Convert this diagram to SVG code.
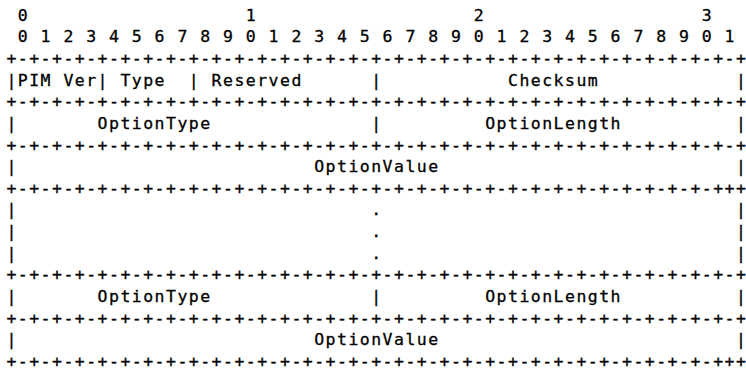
<svg xmlns="http://www.w3.org/2000/svg" width="746" height="371" viewBox="0 0 746 371">
<style>
text { font-family: "DejaVu Sans Mono", "Liberation Mono", monospace; font-size: 16.5px; letter-spacing: 1.466px; fill: #000; stroke: #000; stroke-width: 0.3px; white-space: pre; }
text.edge { letter-spacing: 0; }
</style>
<rect width="746" height="371" fill="#ffffff"/>
<g id="bit-ruler">
<text x="17.8" y="20.5">0</text>
<text x="245.8" y="20.5">1</text>
<text x="473.8" y="20.5">2</text>
<text x="701.8" y="20.5">3</text>
<text x="17.8" y="42.2" xml:space="preserve">0 1 2 3 4 5 6 7 8 9 0 1 2 3 4 5 6 7 8 9 0 1 2 3 4 5 6 7 8 9 0 1</text>
</g>
<g id="connectors">
<text x="6.4" y="63.8">+-+-+-+-+-+-+-+-+-+-+-+-+-+-+-+-+-+-+-+-+-+-+-+-+-+-+-+-+-+-+-+-</text>
<text class="edge" x="736" y="63.8">+</text>
<text x="6.4" y="107.1">+-+-+-+-+-+-+-+-+-+-+-+-+-+-+-+-+-+-+-+-+-+-+-+-+-+-+-+-+-+-+-+-</text>
<text class="edge" x="736" y="107.1">+</text>
<text x="6.4" y="150.5">+-+-+-+-+-+-+-+-+-+-+-+-+-+-+-+-+-+-+-+-+-+-+-+-+-+-+-+-+-+-+-+-</text>
<text class="edge" x="736" y="150.5">+</text>
<text x="6.4" y="193.8">+-+-+-+-+-+-+-+-+-+-+-+-+-+-+-+-+-+-+-+-+-+-+-+-+-+-+-+-+-+-+-+++</text>
<text x="6.4" y="280.4">+-+-+-+-+-+-+-+-+-+-+-+-+-+-+-+-+-+-+-+-+-+-+-+-+-+-+-+-+-+-+-+-</text>
<text class="edge" x="736" y="280.4">+</text>
<text x="6.4" y="323.7">+-+-+-+-+-+-+-+-+-+-+-+-+-+-+-+-+-+-+-+-+-+-+-+-+-+-+-+-+-+-+-+-</text>
<text class="edge" x="736" y="323.7">+</text>
<text x="6.4" y="367">+-+-+-+-+-+-+-+-+-+-+-+-+-+-+-+-+-+-+-+-+-+-+-+-+-+-+-+-+-+-+-+++</text>
</g>
<g id="row-header">
<text x="6.4" y="85.5">|PIM Ver|</text>
<text x="120.4" y="85.5">Type</text>
<text x="188.8" y="85.5">|</text>
<text x="211.6" y="85.5">Reserved</text>
<text x="371.2" y="85.5">|</text>
<text x="508.0" y="85.5">Checksum</text>
<text class="edge" x="736" y="85.5">|</text>
</g>
<g id="row-option-1">
<text x="6.4" y="128.8">|</text>
<text x="97.6" y="128.8">OptionType</text>
<text x="371.2" y="128.8">|</text>
<text x="485.2" y="128.8">OptionLength</text>
<text class="edge" x="736" y="128.8">|</text>
</g>
<g id="row-value-1">
<text x="6.4" y="172.1">|</text>
<text x="314.2" y="172.1">OptionValue</text>
<text class="edge" x="736" y="172.1">|</text>
</g>
<g id="row-ellipsis">
<text x="6.4" y="215.4">|</text>
<text x="371.2" y="215.4">.</text>
<text class="edge" x="736" y="215.4">|</text>
<text x="6.4" y="237.1">|</text>
<text x="371.2" y="237.1">.</text>
<text class="edge" x="736" y="237.1">|</text>
<text x="6.4" y="258.8">|</text>
<text x="371.2" y="258.8">.</text>
<text class="edge" x="736" y="258.8">|</text>
</g>
<g id="row-option-n">
<text x="6.4" y="302.1">|</text>
<text x="97.6" y="302.1">OptionType</text>
<text x="371.2" y="302.1">|</text>
<text x="485.2" y="302.1">OptionLength</text>
<text class="edge" x="736" y="302.1">|</text>
</g>
<g id="row-value-n">
<text x="6.4" y="345.4">|</text>
<text x="314.2" y="345.4">OptionValue</text>
<text class="edge" x="736" y="345.4">|</text>
</g>
</svg>
